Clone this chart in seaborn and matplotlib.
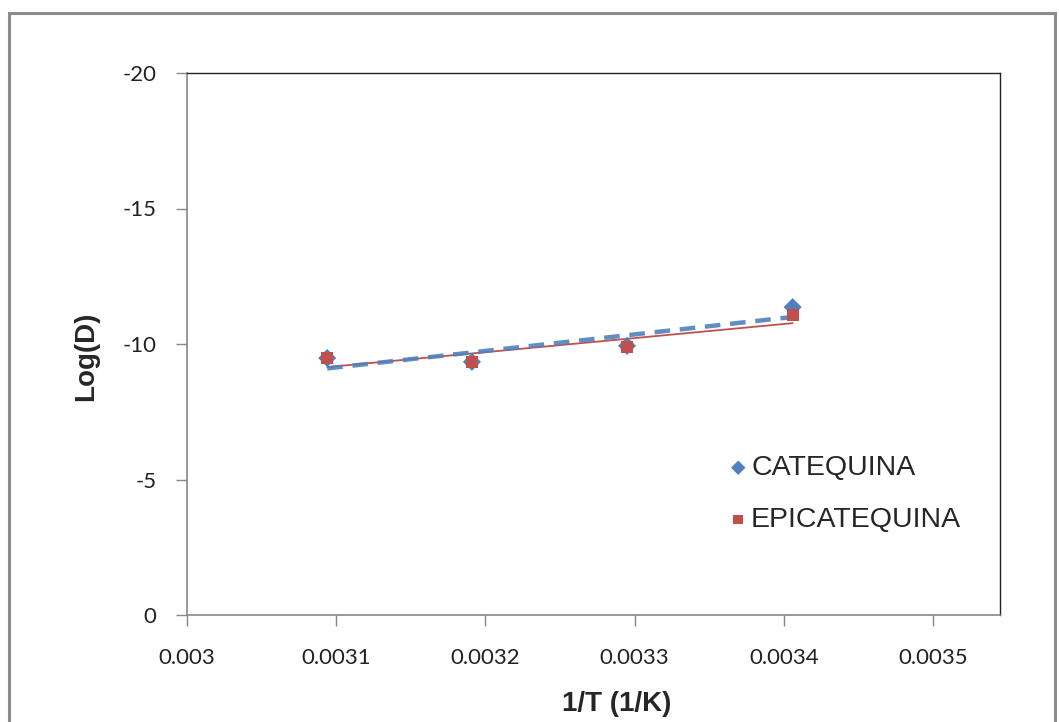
import matplotlib
matplotlib.use("Agg")
import matplotlib.pyplot as plt
import seaborn as sns
import numpy as np
import pandas as pd
from matplotlib.patches import Rectangle

inv_T = [0.003094, 0.003191, 0.003295, 0.003406]
catequina = [-9.48, -9.34, -9.93, -11.36]
epicatequina = [-9.48, -9.33, -9.88, -11.07]
series_names = ["CATEQUINA", "EPICATEQUINA"]
x_ticks = [0.003, 0.0031, 0.0032, 0.0033, 0.0034, 0.0035]
x_tick_labels = ["0.003", "0.0031", "0.0032", "0.0033", "0.0034", "0.0035"]
y_ticks = [0, -5, -10, -15, -20]
y_tick_labels = ["0", "-5", "-10", "-15", "-20"]

sns.set_style("white")
plt.rcParams["font.family"] = ["Lato", "DejaVu Sans"]

blue = "#4F81BD"
red = "#C0504D"

fig = plt.figure(figsize=(10.59, 7.22), dpi=100)
ax = fig.add_axes([187 / 1059, 1 - 615 / 722, (1000 - 187) / 1059, (615 - 73) / 722])

df = pd.DataFrame({"x": inv_T, "cat": catequina, "epi": epicatequina})

# trendlines
sns.regplot(data=df, x="x", y="epi", scatter=False, ci=None, truncate=True, ax=ax,
            line_kws=dict(color=red, lw=1.3, zorder=2))
sns.regplot(data=df, x="x", y="cat", scatter=False, ci=None, truncate=True, ax=ax,
            line_kws=dict(color=blue, lw=3.2, ls=(0, (3.5, 2.2)), alpha=0.9, zorder=3))

sns.scatterplot(data=df, x="x", y="cat", marker="D", s=85, color=blue, edgecolor="none",
                ax=ax, label=series_names[0], zorder=4)
sns.scatterplot(data=df, x="x", y="epi", marker="s", s=75, color=red, edgecolor="none",
                ax=ax, label=series_names[1], zorder=5)

ax.set_xlim(0.003, 0.003545)
ax.set_ylim(0, -20)
ax.set_xticks(x_ticks)
ax.set_xticklabels(x_tick_labels)
ax.set_yticks(y_ticks)
ax.set_yticklabels(y_tick_labels)

for side in ["left", "bottom"]:
    ax.spines[side].set_color("#888888")
    ax.spines[side].set_linewidth(1.2)
for side in ["top", "right"]:
    ax.spines[side].set_color("#222222")
    ax.spines[side].set_linewidth(1.0)

ax.tick_params(axis="both", which="major", direction="out", length=8, width=1,
               color="#888888", labelsize=16, labelcolor="#222222")
ax.tick_params(axis="x", pad=16, bottom=True)
ax.tick_params(axis="y", pad=14, left=True)

lab_family = ["Liberation Sans Narrow", "Liberation Sans", "DejaVu Sans"]
ax.set_xlabel("1/T (1/K)", fontsize=20, fontweight="bold", family=lab_family)
ax.set_ylabel("Log(D)", fontsize=20, fontweight="bold", family=lab_family)
ax.xaxis.set_label_coords(0.529, -0.140)
ax.yaxis.set_label_coords(-0.108, 0.478)

leg = ax.legend(loc="center left", bbox_to_anchor=(724 / 1059, 1 - 494 / 722),
                bbox_transform=fig.transFigure, frameon=False, handletextpad=-0.05,
                handlelength=1.0, labelspacing=0.9, markerscale=0.8, borderpad=0,
                borderaxespad=0,
                prop=dict(family=["Liberation Sans", "DejaVu Sans"], size=20.5))

fig.patches.append(Rectangle((9 / 1059, -0.05), (1055 - 9) / 1059, 1 - 13 / 722 + 0.05,
                             transform=fig.transFigure, fill=False,
                             edgecolor="#8c8c8c", lw=2.2))

fig.savefig("out.png", dpi=100)
